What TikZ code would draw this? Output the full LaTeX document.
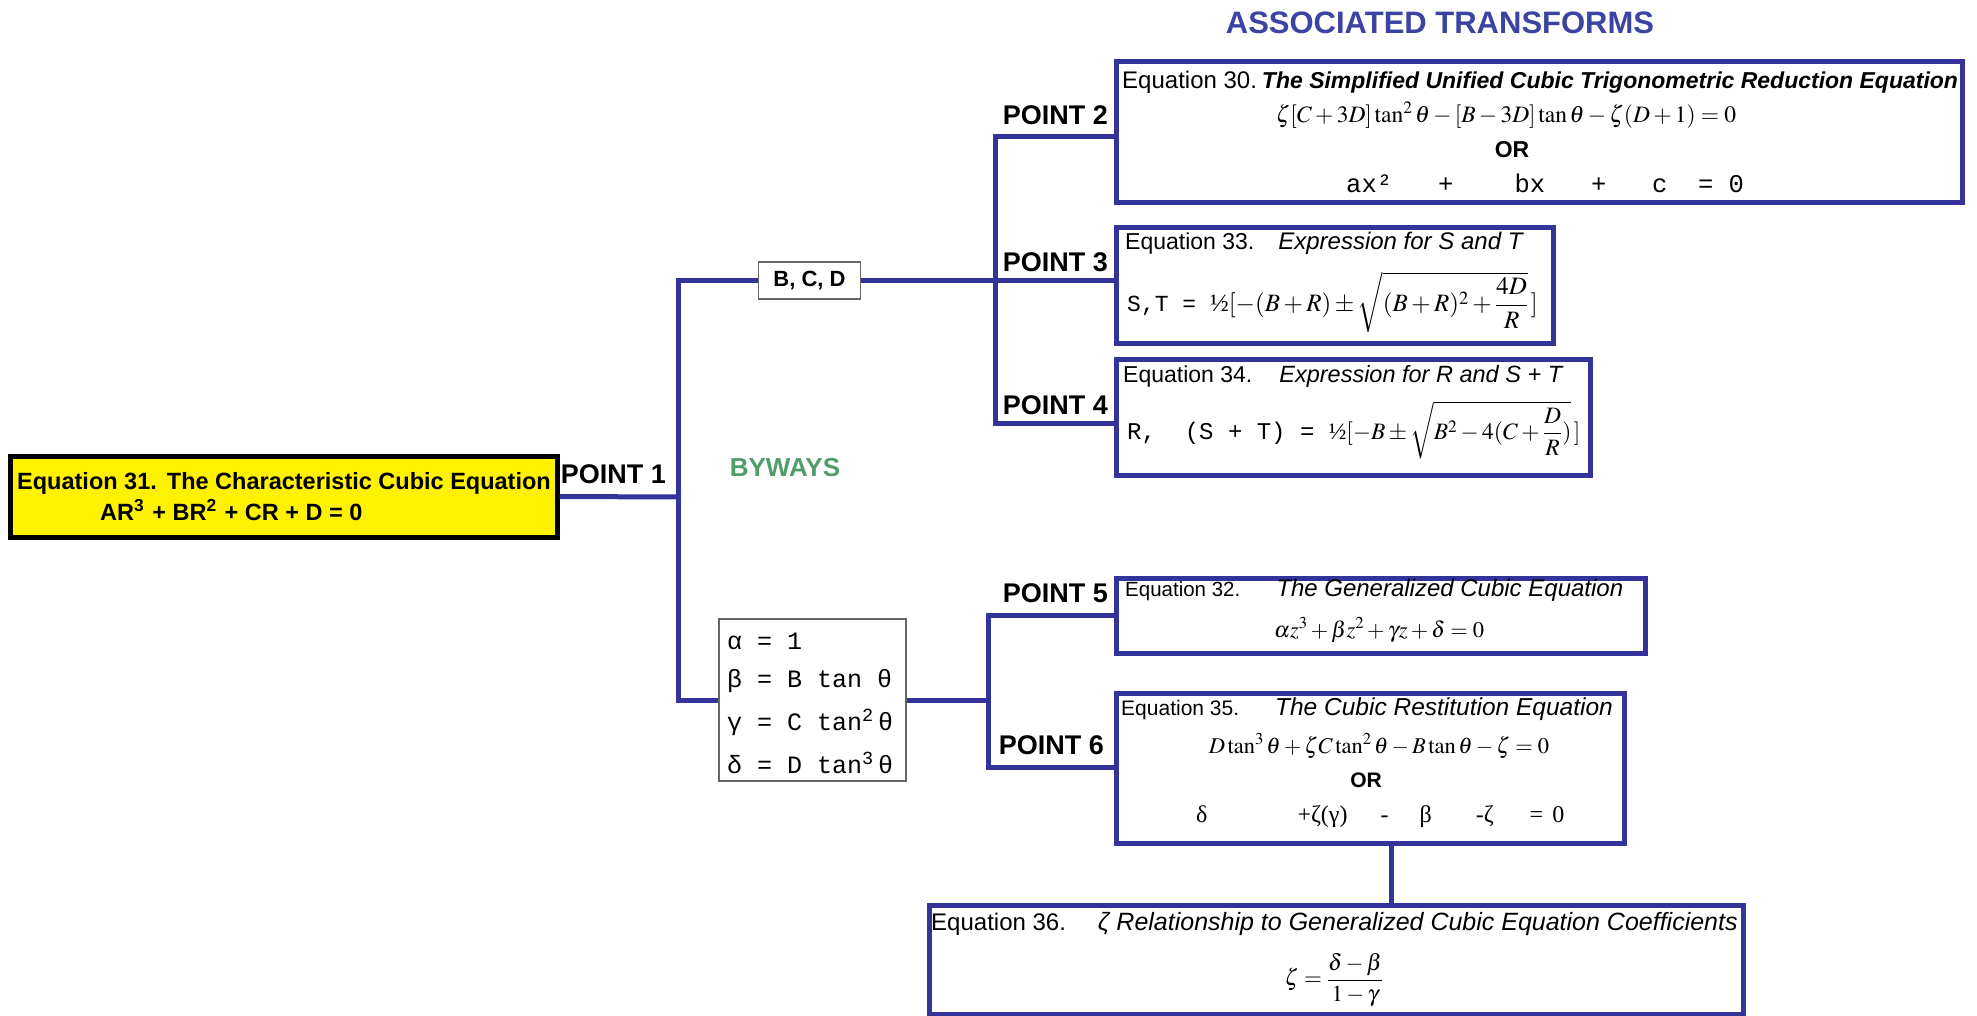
\documentclass[tikz,border=0pt]{standalone}
\usepackage{mathptmx}
\usepackage{amsmath}
\usepackage{fontspec}
\usetikzlibrary{positioning}
\newfontfamily\arial{Liberation Sans}
\newfontfamily\cour{Liberation Mono}
\newfontfamily\tnr{Liberation Serif}
\newcommand{\fsz}[1]{\fontsize{#1}{#1}\selectfont}
\definecolor{LinkBlue}{HTML}{333399}
\definecolor{HeadBlue}{HTML}{3B43A3}
\definecolor{BywayGreen}{HTML}{4F9D69}
\definecolor{KeyGray}{HTML}{666666}

\begin{document}
\begin{tikzpicture}[x=1pt, y=-1pt,
    eqbox/.style={draw=LinkBlue, line width=5pt, inner sep=0pt},
    keybox/.style={draw=KeyGray, line width=1.6pt, fill=white, inner sep=0pt},
    link/.style={LinkBlue, line width=5pt},
    point/.style={font=\arial\bfseries\fsz{27}, anchor=east, inner sep=0pt},
    eqtitle/.style={anchor=west, inner sep=0pt, font=\arial},
    eqline/.style={inner sep=0pt},
    keyline/.style={anchor=west, inner sep=0pt, font=\cour\fsz{25}}
]
  \useasboundingbox (0,0) rectangle (1977,1016);
  % Boxes
  \node[draw=black, fill=yellow, line width=5pt, inner sep=0pt,
        minimum width=547, minimum height=81] (eq31) at (283.5,496.5) {};
  \node[eqbox, minimum width=846, minimum height=141] (eq30) at (1539,132.5) {};
  \node[eqbox, minimum width=437, minimum height=115] (eq33) at (1334.5,285.5) {};
  \node[eqbox, minimum width=474, minimum height=116] (eq34) at (1353,417) {};
  \node[eqbox, minimum width=529, minimum height=75] (eq32) at (1380.5,615.5) {};
  \node[eqbox, minimum width=508, minimum height=150] (eq35) at (1370,768) {};
  \node[eqbox, minimum width=814, minimum height=109] (eq36) at (1336,959.5) {};
  \node[keybox, minimum width=102, minimum height=37,
        font=\arial\bfseries\fsz{22}] (bcd) at (809.5,280.5) {B, C, D};
  \node[keybox, minimum width=187, minimum height=162] (coef) at (812.5,700) {};
  % Junctions
  \coordinate (j1) at (678,497);
  \coordinate (p2) at (995,137);
  \coordinate (p4) at (995,423);
  \coordinate (p5) at (988,615);
  \coordinate (p6) at (988,767);
  \coordinate (k) at (1391,0);
  % Links
  \draw[link] (eq31.east) -- (j1);
  \draw[link] (bcd.west) -| (j1) |- (coef.west);
  \draw[link] (bcd.east) -- (bcd.east -| eq33.west);
  \draw[link] (p2 -| eq30.west) -- (p2) -- (p4) -- (p4 -| eq34.west);
  \draw[link] (coef.east) -- (coef.east -| p5);
  \draw[link] (p5 -| eq32.west) -- (p5) -- (p6) -- (p6 -| eq35.west);
  \draw[link] (k |- eq35.south) -- (k |- eq36.north);
  % Labels
  \node[font=\arial\bfseries\fsz{31}, text=HeadBlue] (head) at (1440,23) {ASSOCIATED TRANSFORMS};
  \node[font=\arial\bfseries\fsz{26}, text=BywayGreen] (byways) at (785,468) {BYWAYS};
  \node[point] (pt1) at (666,474) {POINT 1};
  \node[point] (pt2) at (1108,115) {POINT 2};
  \node[point] (pt3) at (1108,262) {POINT 3};
  \node[point] (pt4) at (1108,405) {POINT 4};
  \node[point] (pt5) at (1108,593) {POINT 5};
  \node[point] (pt6) at (1104,745) {POINT 6};
  % Equation 31
  \node[eqtitle, font=\arial\bfseries\fsz{23.5}] (t31) at (17,483)
    {Equation 31.\hspace{10pt}The Characteristic Cubic Equation};
  \node[eqtitle, font=\arial\bfseries\fsz{23.5}] (f31) at (100,510)
    {AR\textsuperscript{3}\hspace{8pt}+ BR\textsuperscript{2}\hspace{8pt}+ CR + D = 0};
  % Equation 30
  \node[eqtitle] (t30) at (1122,82)
    {{\fsz{24}Equation 30.}\hspace{5pt}{\bfseries\itshape\fsz{23}The Simplified Unified Cubic Trigonometric Reduction Equation}};
  \node[eqline, font=\fsz{23.5}] (f30) at (1506,115)
    {$\zeta[C+3D]\tan^2\theta-[B-3D]\tan\theta-\zeta(D+1)=0$};
  \node[eqline, font=\arial\bfseries\fsz{23}] (or30) at (1512,150) {OR};
  \node[eqline, anchor=west, font=\cour\fsz{25.5}] (q30) at (1346,183)
    {ax²~~~+~~~~bx~~~+~~~c~~=~0};
  % Equation 33
  \node[eqtitle] (t33) at (1125,243)
    {{\fsz{23}Equation 33.}\hspace{24pt}{\itshape\fsz{24}Expression for S and T}};
  \node[eqline, anchor=west, font=\fsz{25}] (f33) at (1127,302)
    {{\cour\fsz{23}S,T = }{\tnr ½}$[-(B+R)\pm\sqrt{(B+R)^2+\dfrac{4D}{R}}\,]$};
  % Equation 34
  \node[eqtitle] (t34) at (1123,376)
    {{\fsz{23}Equation 34.}\hspace{27pt}{\itshape\fsz{23.5}Expression for R and S + T}};
  \node[eqline, anchor=west, font=\fsz{23.5}] (f34) at (1127,430)
    {{\cour\fsz{24}R,~~(S~+~T)~= }{\tnr ½}$[-B\pm\sqrt{B^2-4(C+\dfrac{D}{R})}\,]$};
  % Equation 32
  \node[eqtitle] (t32) at (1125,590)
    {{\fsz{20.5}Equation 32.}\hspace{36pt}{\itshape\fsz{24}The Generalized Cubic Equation}};
  \node[eqline, font=\fsz{22.5}] (f32) at (1379,630)
    {$\alpha z^3+\beta z^2+\gamma z+\delta=0$};
  % Equation 35
  \node[eqtitle] (t35) at (1121,709)
    {{\fsz{21}Equation 35.}\hspace{36pt}{\itshape\fsz{24.5}The Cubic Restitution Equation}};
  \node[eqline, font=\fsz{22.5}] (f35) at (1379,746)
    {$D\tan^3\theta+\zeta C\tan^2\theta-B\tan\theta-\zeta=0$};
  \node[eqline, font=\arial\bfseries\fsz{21}] (or35) at (1366,780) {OR};
  \node[eqline, anchor=west, font=\tnr\fsz{24}] (q35) at (1196,817)
    {δ\hspace{90pt}+ζ(γ)\hspace{33pt}-\hspace{31pt}β\hspace{44pt}-ζ\hspace{36pt}=\hspace{9pt}0};
  % Equation 36
  \node[eqtitle] (t36) at (931,924)
    {{\fsz{24}Equation 36.}\hspace{32pt}{\itshape\fsz{25}ζ Relationship to Generalized Cubic Equation Coefficients}};
  \node[eqline, font=\fsz{23}] (f36) at (1334,980)
    {$\zeta=\dfrac{\delta-\beta}{1-\gamma}$};
  % Coefficient key
  \node[keyline] (ca) at (727,641) {α = 1};
  \node[keyline] (cb) at (727,681) {β = B tan θ};
  \node[keyline] (cg) at (727,722) {γ = C tan\textsuperscript{2}\,θ};
  \node[keyline] (cd) at (727,763) {δ = D tan\textsuperscript{3}\,θ};
\end{tikzpicture}
\end{document}
